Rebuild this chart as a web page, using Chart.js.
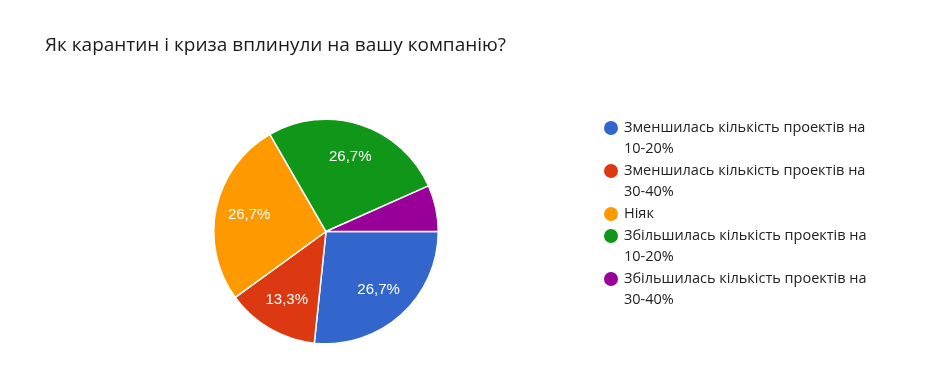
<!DOCTYPE html>
<html>
<head>
<meta charset="utf-8">
<script src="https://cdn.jsdelivr.net/npm/chart.js@4"></script>
<style>
  html, body { margin: 0; padding: 0; background: #fff; }
  #wrap { width: 929px; height: 365px; }
</style>
</head>
<body>
<div id="wrap"><canvas id="pieChart" width="929" height="365"></canvas></div>
<script>
const chartTitle = 'Як карантин і криза вплинули на вашу компанію?';
const answers = [
    'Зменшилась кількість проектів на 10-20%',
    'Зменшилась кількість проектів на 30-40%',
    'Ніяк',
    'Збільшилась кількість проектів на 10-20%',
    'Збільшилась кількість проектів на 30-40%'
];
const responses = [4, 2, 4, 4, 1];
const sliceColors = ['#3366cc', '#dc3912', '#ff9900', '#109618', '#990099'];

const total = responses.reduce((a, b) => a + b, 0);

// title, slice percentages and wrapped legend drawn by hand
const extras = {
    id: 'extras',
    afterDatasetsDraw(chart) {
        const ctx = chart.ctx;
        const meta = chart.getDatasetMeta(0);
        ctx.save();
        ctx.fillStyle = '#ffffff';
        ctx.font = '15px "Liberation Sans", Arial, sans-serif';
        ctx.textAlign = 'center';
        ctx.textBaseline = 'middle';
        meta.data.forEach((arc, i) => {
            const frac = responses[i] / total;
            if (frac < 0.1) return;
            const mid = (arc.startAngle + arc.endAngle) / 2;
            const r = arc.outerRadius * 0.7;
            const txt = (frac * 100).toFixed(1).replace('.', ',') + '%';
            ctx.fillText(txt, arc.x + Math.cos(mid) * r, arc.y + Math.sin(mid) * r);
        });
        ctx.restore();
    },
    afterDraw(chart) {
        const ctx = chart.ctx;
        ctx.save();
        ctx.fillStyle = '#1a1a1a';
        ctx.textAlign = 'left';
        ctx.textBaseline = 'middle';
        ctx.font = '19px "Open Sans", sans-serif';
        ctx.fillText(chartTitle, 45, 46);

        ctx.font = '14.5px "Open Sans", sans-serif';
        ctx.fillStyle = '#222222';
        let y = 128;
        answers.forEach((label, i) => {
            const words = label.split(' ');
            const lines = [];
            let cur = '';
            words.forEach(w => {
                const test = cur ? cur + ' ' + w : w;
                if (ctx.measureText(test).width > 250 && cur) {
                    lines.push(cur);
                    cur = w;
                } else {
                    cur = test;
                }
            });
            lines.push(cur);
            ctx.fillStyle = sliceColors[i];
            ctx.beginPath();
            ctx.arc(611, y, 7, 0, Math.PI * 2);
            ctx.fill();
            ctx.fillStyle = '#222222';
            lines.forEach((ln, j) => {
                ctx.fillText(ln, 624, y + j * 21);
            });
            y += (lines.length - 1) * 21 + 22;
        });
        ctx.restore();
    }
};

new Chart(document.getElementById('pieChart'), {
    type: 'pie',
    data: {
        labels: answers,
        datasets: [{
            data: responses,
            backgroundColor: sliceColors,
            borderColor: '#ffffff',
            borderWidth: 1.5
        }]
    },
    options: {
        responsive: false,
        animation: false,
        rotation: 90,
        layout: {
            padding: { left: 213, right: 490, top: 118, bottom: 20 }
        },
        plugins: {
            legend: { display: false },
            title: { display: false },
            tooltip: { enabled: false }
        }
    },
    plugins: [extras]
});
</script>
</body>
</html>
